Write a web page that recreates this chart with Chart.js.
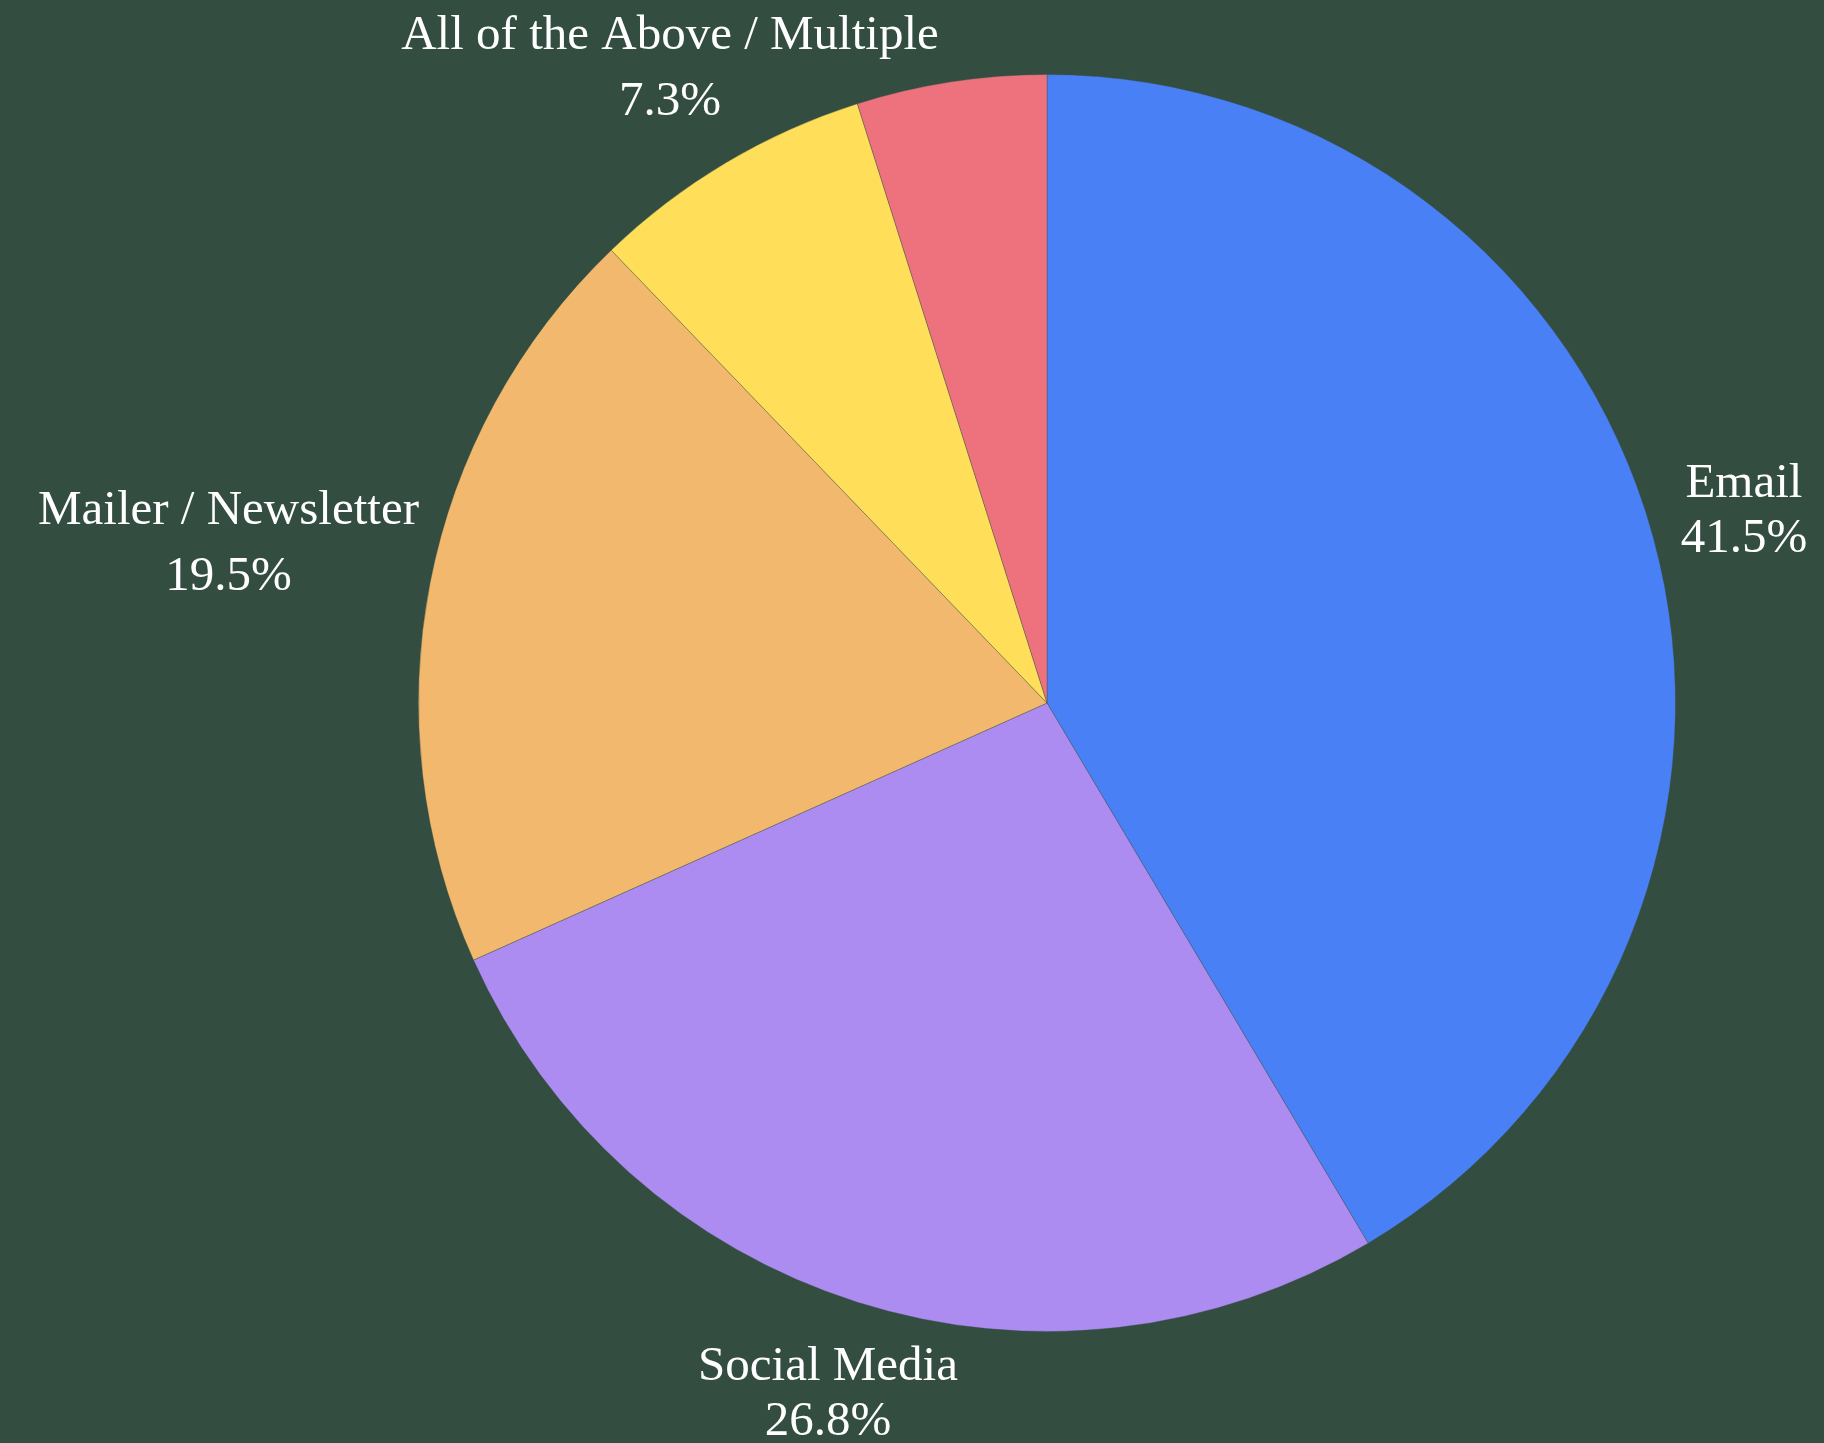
<!DOCTYPE html>
<html>
<head>
<meta charset="utf-8">
<script src="https://cdn.jsdelivr.net/npm/chart.js@4.4.1/dist/chart.umd.min.js"></script>
<style>
	html, body { margin: 0; padding: 0; background: #334e41; }
	#wrap { width: 1824px; height: 1443px; }
</style>
</head>
<body>
<div id="wrap"><canvas id="myChart" width="1824" height="1443"></canvas></div>
<script>
let labels = ['Email', 'Social Media', 'Mailer / Newsletter', 'All of the Above / Multiple', 'Other']
let counts = [17, 11, 8, 3, 2]
let colors = ['#4a80f5', '#ad8cf2', '#f2b86e', '#ffde5a', '#ee727d']

let labelFont = '49px "Liberation Serif", Georgia, serif'

// nearest distance from the pie centre to a box (relative coords)
function boxDist(x0, x1, y0, y1) {
	let nx = Math.max(x0, Math.min(0, x1));
	let ny = Math.max(y0, Math.min(0, y1));
	return Math.sqrt(nx * nx + ny * ny);
}

// draws "label / pct" outside each slice, skips the tiny ones
const outsideLabels = {
	id: 'outsideLabels',
	afterDatasetsDraw(chart) {
		const ctx = chart.ctx;
		const meta = chart.getDatasetMeta(0);
		const data = chart.data.datasets[0].data;
		const total = data.reduce((a, b) => a + b, 0);

		ctx.save();
		ctx.font = labelFont;
		ctx.fillStyle = '#ffffff';
		ctx.textAlign = 'center';
		ctx.textBaseline = 'middle';

		meta.data.forEach((arc, i) => {
			let pct = data[i] / total * 100;
			if (pct < 5) return;
			let lines = [chart.data.labels[i], pct.toFixed(1) + '%'];
			let widths = lines.map(l => ctx.measureText(l).width);
			let mid = (arc.startAngle + arc.endAngle) / 2;
			let dx = Math.cos(mid);
			let dy = Math.sin(mid);
			let r = arc.outerRadius;
			let lineH = 55;
			let halfInk = 22;

			// push the label out along the ray until it clears the pie
			let dist = r * 1.15;
			for (let n = 0; n < 600; n++) {
				let cx = dx * dist, cy = dy * dist;
				let ok = lines.every((l, k) => {
					let ly = cy + lineH * (k - (lines.length - 1) / 2);
					return boxDist(cx - widths[k] / 2, cx + widths[k] / 2, ly - halfInk, ly + halfInk) >= r + 20;
				});
				if (ok) break;
				dist += 1;
			}

			// wide labels get a looser line gap
			let drawH = widths[0] > 300 ? 66 : 55;
			let cx = arc.x + dx * dist;
			let cy = arc.y + dy * dist;
			lines.forEach((l, k) => {
				ctx.fillText(l, cx, cy + drawH * (k - (lines.length - 1) / 2));
			});
		});
		ctx.restore();
	}
};

function createChart() {
	const data = {
		labels: labels,
		datasets: [{
			data: counts,
			backgroundColor: colors,
			borderColor: 'rgba(51,78,65,0.35)',
			borderWidth: 1
		}]
	};
	const config = {
		type: 'pie',
		data: data,
		options: {
			responsive: false,
			animation: false,
			layout: {
				padding: { top: 74, bottom: 111, left: 418, right: 148 }
			},
			plugins: {
				legend: { display: false },
				tooltip: { enabled: false }
			}
		},
		plugins: [outsideLabels]
	};
	const ctx = document.getElementById('myChart').getContext('2d');
	new Chart(ctx, config);
}

createChart();
</script>
</body>
</html>
